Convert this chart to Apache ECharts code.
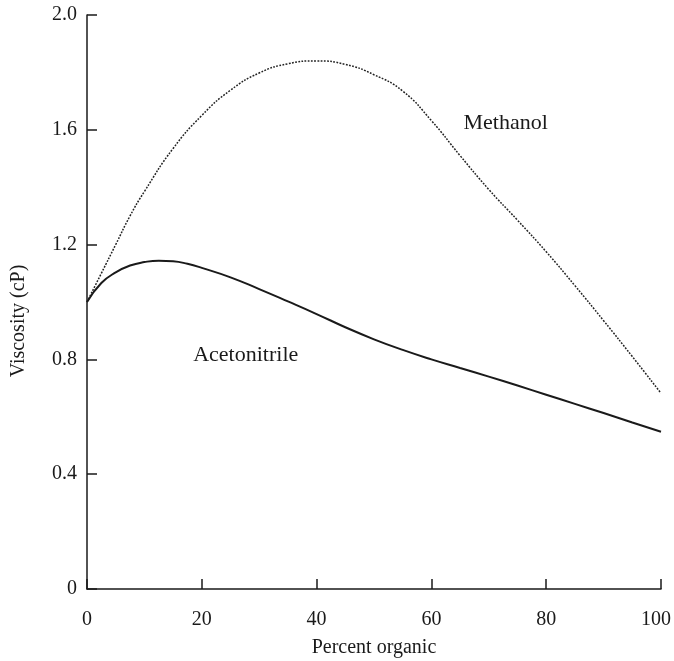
<!DOCTYPE html>
<html>
<head>
<meta charset="utf-8">
<script src="https://cdn.jsdelivr.net/npm/echarts@6/dist/echarts.min.js"></script>
<style>
html,body{margin:0;padding:0;background:#fff;}
#chart{width:674px;height:661px;}
</style>
</head>
<body>
<div id="chart"></div>
<script>
// Data
const methanolX = [0,2.5,5,7.5,10,15,20,25,30,35,40,45,50,55,60,65,70,75,80,85,90,95,100];
const methanol  = [1.00,1.10,1.20,1.30,1.385,1.535,1.650,1.738,1.798,1.830,1.840,1.828,1.792,1.735,1.632,1.510,1.392,1.285,1.175,1.057,0.935,0.810,0.682];
const acetonitrileX = [0,2.5,5,7.5,10,12.5,15,17.5,20,25,30,35,40,45,50,55,60,65,70,75,80,85,90,95,100];
const acetonitrile  = [1.00,1.066,1.103,1.127,1.139,1.144,1.142,1.133,1.119,1.086,1.045,1.002,0.958,0.912,0.870,0.833,0.800,0.770,0.740,0.709,0.677,0.645,0.613,0.580,0.548];
const xTicks = [0,20,40,60,80,100];
const yTicks = [0,0.4,0.8,1.2,1.6,2.0];
const seriesLabels = [
  {text:'Methanol', x:65.6, y:1.624},
  {text:'Acetonitrile', x:18.5, y:0.815}
];

const FONT = '"Liberation Serif", "DejaVu Serif", serif';
const INK = '#1a1a1a';

const chart = echarts.init(document.getElementById('chart'));
const option = {
  animation:false,
  backgroundColor:'#fff',
  grid:{left:87,right:13,top:15,bottom:72,containLabel:false,outerBoundsMode:'none'},
  xAxis:{
    type:'value',min:0,max:100,interval:20,
    name:'Percent organic',nameLocation:'middle',nameGap:49,
    nameTextStyle:{fontFamily:FONT,fontSize:20,color:INK},
    axisLine:{show:true,lineStyle:{color:INK,width:1.5}},
    axisTick:{show:true,inside:true,length:10,lineStyle:{color:INK,width:1.5}},
    axisLabel:{fontFamily:FONT,fontSize:20,color:INK,margin:21,
      formatter:v=>{
        if(!xTicks.includes(v)) return '';
        return v===100 ? '{last|'+v+'}' : String(v);
      },
      rich:{last:{fontFamily:FONT,fontSize:20,color:INK,padding:[0,10,0,0]}}
    },
    splitLine:{show:false}
  },
  yAxis:{
    type:'value',min:0,max:2.0,interval:0.4,
    name:'Viscosity (cP)',nameLocation:'middle',nameGap:58,
    nameTextStyle:{fontFamily:FONT,fontSize:20,color:INK,padding:[0,38,0,0]},
    axisLine:{show:true,lineStyle:{color:INK,width:1.5}},
    axisTick:{show:true,inside:true,length:10,lineStyle:{color:INK,width:1.5}},
    axisLabel:{fontFamily:FONT,fontSize:20,color:INK,margin:10,
      formatter:v=>{const t=yTicks.find(k=>Math.abs(k-v)<1e-9);return t===undefined?'':(t===0?'0':t.toFixed(1));}},
    splitLine:{show:false}
  },
  series:[
    {name:'Methanol',type:'line',smooth:0.5,symbol:'none',
      data:methanolX.map((x,i)=>[x,methanol[i]]),
      lineStyle:{color:'#222',width:1.5,type:[1.8,1.4]}},
    {name:'Acetonitrile',type:'line',smooth:0.5,symbol:'none',
      data:acetonitrileX.map((x,i)=>[x,acetonitrile[i]]),
      lineStyle:{color:'#1a1a1a',width:2}}
  ]
};
chart.setOption(option);
const g = seriesLabels.map(l=>{
  const p = chart.convertToPixel({gridIndex:0},[l.x,l.y]);
  return {type:'text',x:p[0],y:p[1],style:{text:l.text,fontFamily:FONT,fontSize:22,fill:INK,textAlign:'left',textVerticalAlign:'middle'}};
});
chart.setOption({graphic:g});
</script>
</body>
</html>
